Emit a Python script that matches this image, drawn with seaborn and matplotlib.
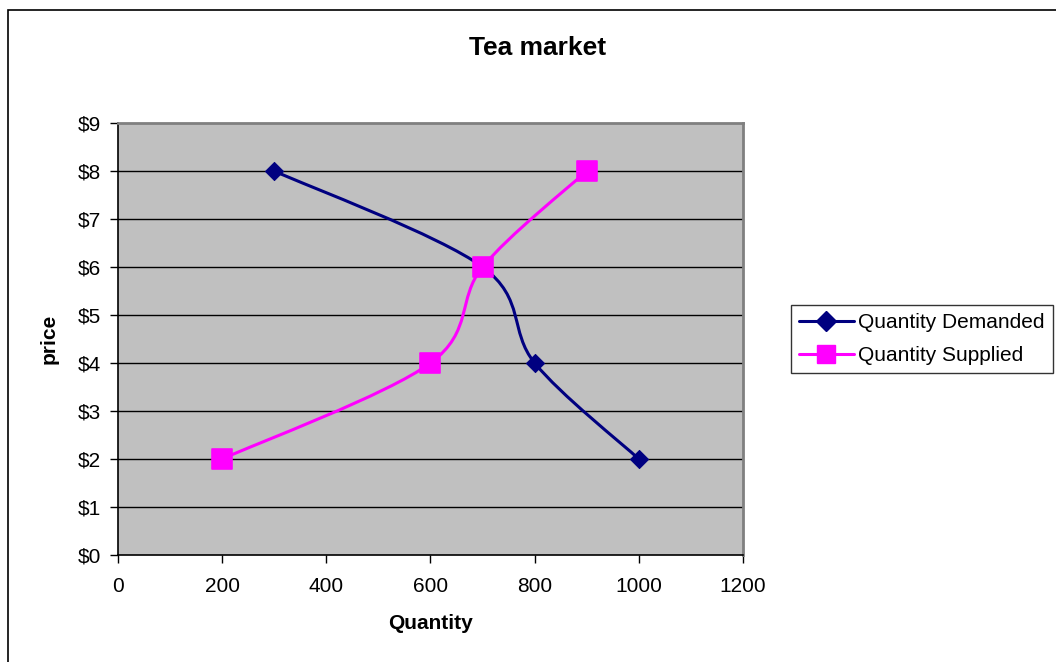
import numpy as np
import pandas as pd
import matplotlib
matplotlib.use("Agg")
import matplotlib.pyplot as plt
from matplotlib.path import Path
from matplotlib.patches import PathPatch, Rectangle
from matplotlib.lines import Line2D
import seaborn as sns

# ---- data ----
demand_qty = [300, 700, 800, 1000]
demand_price = [8, 6, 4, 2]
supply_qty = [200, 600, 700, 900]
supply_price = [2, 4, 6, 8]
series_names = ["Quantity Demanded", "Quantity Supplied"]
x_ticks = [0, 200, 400, 600, 800, 1000, 1200]
y_ticks = [0, 1, 2, 3, 4, 5, 6, 7, 8, 9]
y_tick_labels = ["$" + str(v) for v in y_ticks]

sns.set_theme(style="white")
plt.rcParams["font.family"] = ["Liberation Sans", "DejaVu Sans"]
plt.rcParams["text.color"] = "#000000"
plt.rcParams["axes.labelcolor"] = "#000000"
plt.rcParams["xtick.color"] = "#000000"
plt.rcParams["ytick.color"] = "#000000"

fig = plt.figure(figsize=(10.56, 6.62), dpi=100)
W, H = 1056, 662
ax = fig.add_axes([118 / W, 1 - 555 / H, (743 - 118) / W, (555 - 123) / H])
ax.set_facecolor("#C0C0C0")

# outer chart border (right/bottom extend beyond the image)
fig.patches.append(Rectangle((8 / W, -0.05), 1.2, 1 - 10 / H + 0.05,
                             transform=fig.transFigure, fill=False,
                             edgecolor="#000000", linewidth=1.2, zorder=0))

ax.set_xlim(0, 1200)
ax.set_ylim(0, 9)
ax.set_yticks(y_ticks)
ax.set_yticklabels(y_tick_labels)
ax.set_xticks(x_ticks)
ax.grid(False)
for y in y_ticks[1:-1]:
    ax.axhline(y, color="#000000", linewidth=1.0, zorder=1)


def smooth_path(xs, ys):
    pts = np.column_stack([xs, ys]).astype(float)
    n = len(pts)
    verts = [pts[0]]
    codes = [Path.MOVETO]
    for i in range(n - 1):
        p0 = pts[i - 1] if i > 0 else pts[i]
        p1 = pts[i]
        p2 = pts[i + 1]
        p3 = pts[i + 2] if i + 2 < n else pts[i + 1]
        c1 = p1 + (p2 - p0) / 6.0
        c2 = p2 - (p3 - p1) / 6.0
        verts += [c1, c2, p2]
        codes += [Path.CURVE4] * 3
    return Path(verts, codes)


colors = ["#000080", "#FF00FF"]
for (xs, ys), c in zip([(demand_qty, demand_price), (supply_qty, supply_price)], colors):
    ax.add_patch(PathPatch(smooth_path(xs, ys), facecolor="none", edgecolor=c,
                           linewidth=2.2, zorder=3))

df_d = pd.DataFrame({"q": demand_qty, "p": demand_price})
df_s = pd.DataFrame({"q": supply_qty, "p": supply_price})
sns.scatterplot(data=df_d, x="q", y="p", marker="D", s=85, color=colors[0],
                edgecolor=colors[0], ax=ax, zorder=4, legend=False)
sns.scatterplot(data=df_s, x="q", y="p", marker="s", s=210, color=colors[1],
                edgecolor=colors[1], ax=ax, zorder=4, legend=False)

# spines
for side in ["left", "bottom"]:
    ax.spines[side].set_color("#000000")
    ax.spines[side].set_linewidth(1.2)
for side in ["top", "right"]:
    ax.spines[side].set_color("#808080")
    ax.spines[side].set_linewidth(2.0)

ax.tick_params(axis="both", which="both", direction="out", length=6, width=1,
               color="#000000", labelsize=15, labelcolor="#000000",
               left=True, bottom=True)
ax.tick_params(axis="x", pad=10)
ax.tick_params(axis="y", pad=6)

ax.set_xlabel("Quantity", fontsize=15, fontweight="bold", labelpad=13,
              color="#000000")
ax.set_ylabel("price", fontsize=15, fontweight="bold", labelpad=14,
              color="#000000")
fig.text(538 / W, 1 - 48 / H, "Tea market", ha="center", va="center",
         fontsize=19, fontweight="bold", color="#000000")

handles = [Line2D([], [], color=colors[0], lw=2.2, marker="D", markersize=10),
           Line2D([], [], color=colors[1], lw=2.2, marker="s", markersize=13)]
leg = fig.legend(handles, series_names, loc="upper left",
                 bbox_to_anchor=(791 / W, 1 - 305 / H), frameon=True,
                 fontsize=15, handlelength=2.6, handletextpad=0.2,
                 borderpad=0.4, borderaxespad=0, labelspacing=0.65,
                 fancybox=False, labelcolor="#000000")
leg.get_frame().set_edgecolor("#000000")
leg.get_frame().set_linewidth(1.0)

fig.savefig("out.png", dpi=100, facecolor="white")
